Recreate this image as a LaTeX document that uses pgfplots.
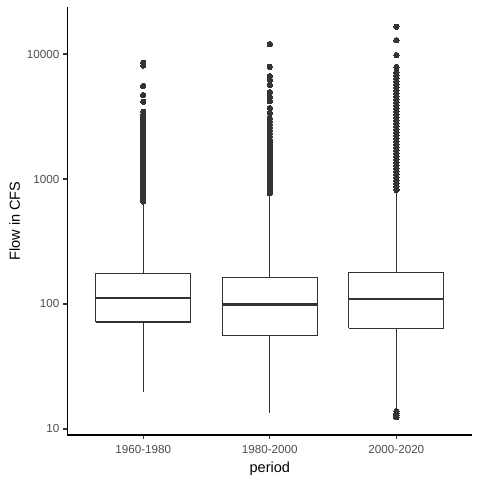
\documentclass[border=0pt]{standalone}
\usepackage{fontspec}
\setmainfont{Liberation Sans}
\usepackage{pgfplots}
\pgfplotsset{compat=1.18}
\definecolor{c333}{HTML}{333333}
\definecolor{c4d}{HTML}{4D4D4D}
\begin{document}
\begin{tikzpicture}
\begin{axis}[
    scale only axis,
    width=405bp, height=428bp,
    xmin=0.4, xmax=3.6,
    ymode=log, ymin=8.95, ymax=23770,
    axis x line*=bottom, axis y line*=left,
    axis line style={-, line width=1.1bp, black},
    tick align=outside,
    major tick length=4bp,
    tick style={line width=1.1bp, c333},
    yminorticks=false,
    xtick={1,2,3},
    xticklabels={1960-1980,1980-2000,2000-2020},
    ytick={10,100,1000,10000},
    yticklabels={10,100,1000,10000},
    ticklabel style={font=\fontsize{11.7}{13}\selectfont, text=c4d},
    xticklabel style={yshift=-2.5bp},
    yticklabel style={xshift=-0.5bp},
    xlabel={period}, ylabel={Flow in CFS},
    label style={font=\fontsize{14.6}{16}\selectfont},
    xlabel style={yshift=-1.5bp},
    box/.style={draw=c333, line width=1.1bp, mark=none},
    med/.style={draw=c333, line width=2.6bp, mark=none},
    out/.style={only marks, mark=*, mark size=2.7bp,
      mark options={fill=c333, draw=c333, line width=0pt}},
    clip=false,
  ]
  % 1960-1980: whiskers, box, median, outliers
  \addplot[box] coordinates {(1,19.7) (1,71.8)};
  \addplot[box] coordinates {(1,176) (1,658)};
  \addplot[box] coordinates {(0.625,71.8) (1.375,71.8) (1.375,176) (0.625,176) (0.625,71.8)};
  \addplot[med] coordinates {(0.625,111.7) (1.375,111.7)};
  \addplot[out] table[row sep=\\, y index=0, x expr=1] {
    8500\\ 8100\\ 5550\\ 4700\\ 4150\\ 3450\\ 3250\\
    3076\\ 2911\\ 2754\\ 2606\\ 2466\\ 2333\\ 2208\\ 2089\\ 1977\\ 1871\\
    1770\\ 1675\\ 1585\\ 1500\\ 1419\\ 1343\\ 1271\\ 1202\\ 1138\\ 1076\\
    1019\\ 964\\ 912\\ 863\\ 817\\ 773\\ 731\\ 692\\ 660\\
  };
  % 1980-2000
  \addplot[box] coordinates {(2,13.4) (2,56.2)};
  \addplot[box] coordinates {(2,163.6) (2,768)};
  \addplot[box] coordinates {(1.625,56.2) (2.375,56.2) (2.375,163.6) (1.625,163.6) (1.625,56.2)};
  \addplot[med] coordinates {(1.625,98.7) (2.375,98.7)};
  \addplot[out] table[row sep=\\, y index=0, x expr=2] {
    12000\\ 7900\\ 6650\\ 6200\\ 5650\\ 4950\\ 4530\\ 4200\\ 3700\\ 3370\\
    3062\\ 2897\\ 2742\\ 2594\\ 2455\\ 2323\\ 2198\\ 2050\\ 1940\\
    1871\\ 1770\\ 1675\\ 1585\\ 1500\\ 1419\\ 1343\\ 1271\\ 1202\\ 1138\\
    1076\\ 1019\\ 964\\ 912\\ 863\\ 817\\ 770\\
  };
  % 2000-2020
  \addplot[box] coordinates {(3,14.5) (3,63.9)};
  \addplot[box] coordinates {(3,179.3) (3,812)};
  \addplot[box] coordinates {(2.625,63.9) (3.375,63.9) (3.375,179.3) (2.625,179.3) (2.625,63.9)};
  \addplot[med] coordinates {(2.625,109.6) (3.375,109.6)};
  \addplot[out] table[row sep=\\, y index=0, x expr=3] {
    16500\\ 12900\\ 9800\\ 7870\\
    7145\\ 6761\\ 6397\\ 6053\\ 5728\\ 5420\\ 5129\\ 4853\\ 4592\\ 4345\\
    4111\\ 3890\\ 3681\\ 3483\\ 3296\\ 3119\\ 2951\\ 2793\\ 2642\\ 2500\\
    2366\\ 2239\\ 2118\\ 2004\\ 1897\\ 1795\\ 1698\\ 1607\\ 1521\\ 1439\\
    1361\\ 1288\\ 1219\\ 1153\\ 1091\\ 1033\\ 977\\ 925\\ 875\\ 828\\ 817\\
    13.9\\ 13.3\\ 12.8\\ 12.4\\
  };
\end{axis}
\path ([xshift=-67.3bp, yshift=-45bp]current axis.south west)
  rectangle ([xshift=7.3bp, yshift=7bp]current axis.north east);
\end{tikzpicture}
\end{document}
